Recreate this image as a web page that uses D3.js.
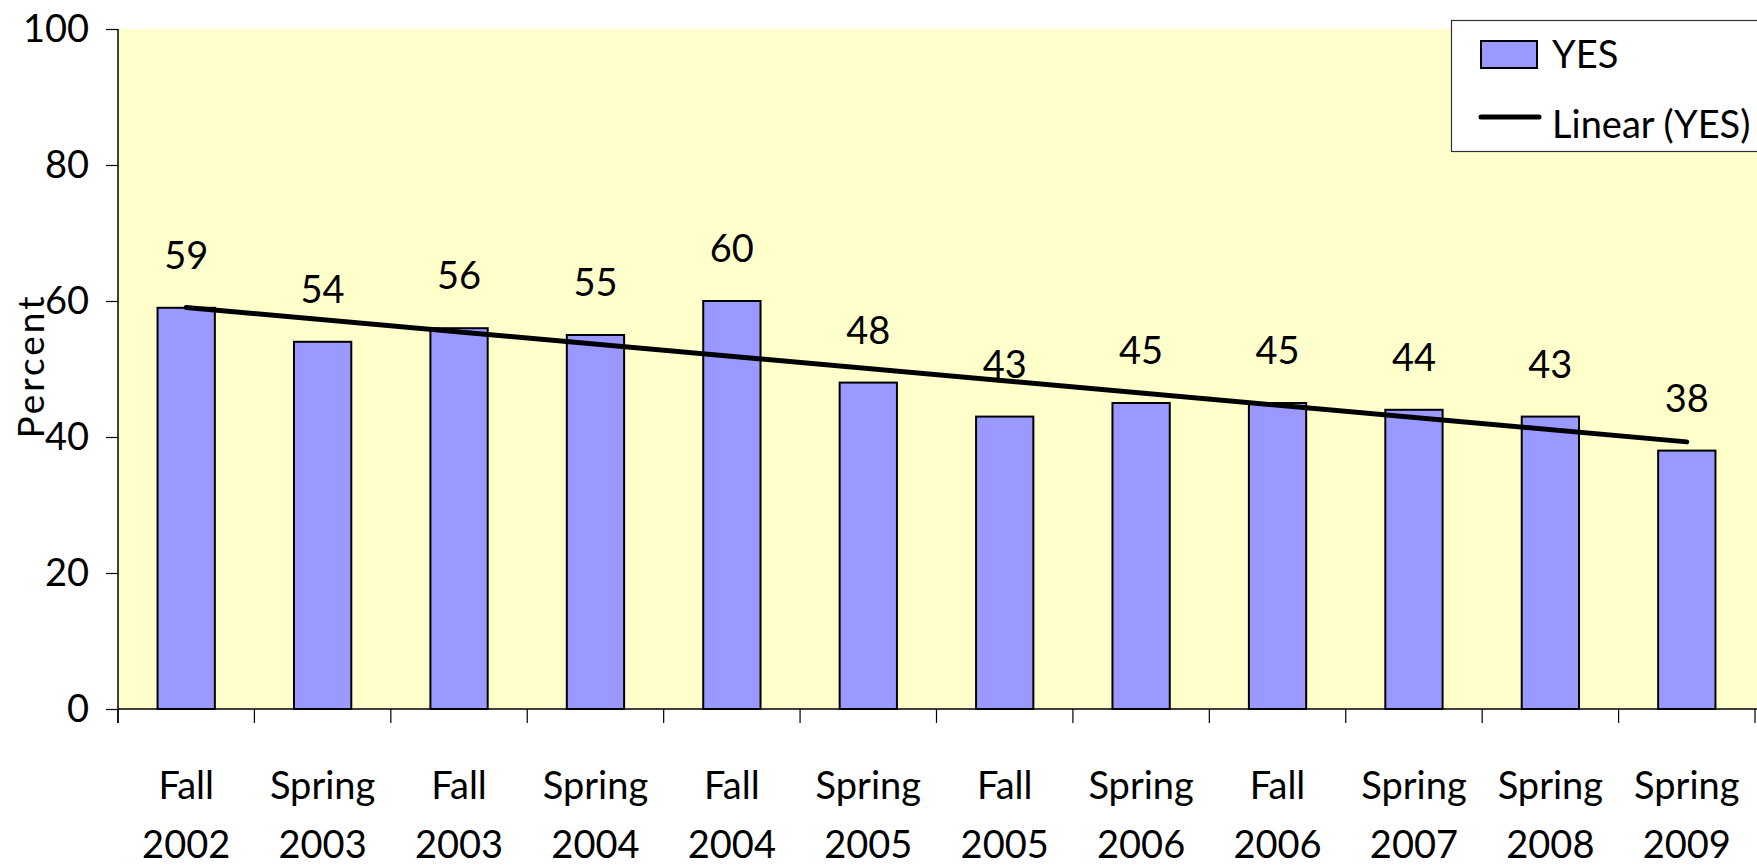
<!DOCTYPE html>
<meta charset="utf-8">
<style>
body { margin: 0; background: #fff; }
text { font-family: Lato, "Open Sans", sans-serif; fill: #000; }
</style>
<svg width="1757" height="867"></svg>
<script src="https://d3js.org/d3.v7.min.js"></script>
<script>

var seasons = ["Fall", "Spring", "Fall", "Spring", "Fall", "Spring", "Fall", "Spring", "Fall", "Spring", "Spring", "Spring"];
var years = ["2002", "2003", "2003", "2004", "2004", "2005", "2005", "2006", "2006", "2007", "2008", "2009"];
var yes = [59, 54, 56, 55, 60, 48, 43, 45, 45, 44, 43, 38];
var yTicks = [0, 20, 40, 60, 80, 100];

var categories = seasons.map(function(s, i) { return s + " " + years[i]; });

var svg = d3.select("svg"),
    plotL = 118, plotR = 1755, plotT = 29, plotB = 709;

var x = d3.scaleBand()
    .domain(categories)
    .range([plotL, plotR])
    .paddingInner(0.58)
    .paddingOuter(0.29);

var y = d3.scaleLinear().domain([0, 100]).range([plotB, plotT]);

// plot background
svg.append("rect")
    .attr("x", plotL).attr("y", plotT)
    .attr("width", 1757 - plotL).attr("height", plotB - plotT)
    .attr("fill", "#ffffcc");

// bars
svg.selectAll(".bar")
  .data(yes)
  .enter().append("rect")
    .attr("class", "bar")
    .attr("x", function(d, i) { return x(categories[i]); })
    .attr("y", function(d) { return y(d); })
    .attr("width", x.bandwidth())
    .attr("height", function(d) { return y(0) - y(d); })
    .attr("fill", "#9999ff")
    .attr("stroke", "#000")
    .attr("stroke-width", 2);

// value labels
svg.selectAll(".val")
  .data(yes)
  .enter().append("text")
    .attr("class", "val")
    .attr("x", function(d, i) { return x(categories[i]) + x.bandwidth() / 2; })
    .attr("y", function(d) { return y(d) - 39; })
    .attr("text-anchor", "middle")
    .style("font-size", "38px")
    .text(function(d) { return d; });

// linear trend line (least squares on the YES series)
var n = yes.length,
    mx = d3.mean(d3.range(n)),
    my = d3.mean(yes),
    sxy = d3.sum(yes, function(d, i) { return (i - mx) * (d - my); }),
    sxx = d3.sum(d3.range(n), function(i) { return (i - mx) * (i - mx); }),
    slope = sxy / sxx,
    icpt = my - slope * mx;

var line = d3.line()
    .x(function(i) { return x(categories[i]) + x.bandwidth() / 2; })
    .y(function(i) { return y(icpt + slope * i); });

svg.append("path")
    .datum([0, n - 1])
    .attr("d", line)
    .attr("fill", "none")
    .attr("stroke", "#000")
    .attr("stroke-width", 5)
    .attr("stroke-linecap", "round");

// y axis
var yAxis = svg.append("g")
    .attr("transform", "translate(" + plotL + ",0)")
    .call(d3.axisLeft(y).tickValues(yTicks).tickSize(12).tickPadding(17));
yAxis.select(".domain").attr("d", "M0," + plotT + "V" + (plotB + 14)).attr("stroke-width", 1.5);
yAxis.selectAll("text").style("font-size", "38px").style("font-family", "Lato, sans-serif");
yAxis.selectAll("line").attr("stroke-width", 1.2);

// x axis: ticks at category boundaries
var bounds = d3.range(n + 1).map(function(i) { return plotL + i * (plotR - plotL) / n; });
var xAxis = svg.append("g");
xAxis.append("line")
    .attr("x1", plotL).attr("x2", 1757)
    .attr("y1", plotB).attr("y2", plotB)
    .attr("stroke", "#000").attr("stroke-width", 1.5);
xAxis.selectAll(".xt")
  .data(bounds)
  .enter().append("line")
    .attr("x1", function(d) { return d; }).attr("x2", function(d) { return d; })
    .attr("y1", plotB).attr("y2", plotB + 14)
    .attr("stroke", "#000").attr("stroke-width", 1.2);

var lab = xAxis.selectAll(".xl")
  .data(categories)
  .enter().append("text")
    .attr("class", "xl")
    .attr("text-anchor", "middle")
    .style("font-size", "38px");
lab.append("tspan").attr("x", function(d) { return x(d) + x.bandwidth() / 2; })
    .attr("y", 799).text(function(d, i) { return seasons[i]; });
lab.append("tspan").attr("x", function(d) { return x(d) + x.bandwidth() / 2; })
    .attr("y", 858).text(function(d, i) { return years[i]; });

// y title
svg.append("text")
    .attr("transform", "translate(44,366) rotate(-90)")
    .attr("text-anchor", "middle")
    .style("font-size", "37px")
    .style("letter-spacing", "3px")
    .text("Percent");

// legend
var lg = svg.append("g");
lg.append("rect")
    .attr("x", 1451.5).attr("y", 20.5)
    .attr("width", 320).attr("height", 131)
    .attr("fill", "#fff").attr("stroke", "#333").attr("stroke-width", 1.2);
lg.append("rect")
    .attr("x", 1481).attr("y", 41)
    .attr("width", 56).attr("height", 27)
    .attr("fill", "#9999ff").attr("stroke", "#000").attr("stroke-width", 2);
lg.append("text").attr("x", 1552).attr("y", 68).style("font-size", "38px").text("YES");
lg.append("line")
    .attr("x1", 1481).attr("x2", 1539).attr("y1", 117).attr("y2", 117)
    .attr("stroke", "#000").attr("stroke-width", 5).attr("stroke-linecap", "round");
lg.append("text").attr("x", 1552).attr("y", 138).style("font-size", "38px").text("Linear (YES)");

</script>
